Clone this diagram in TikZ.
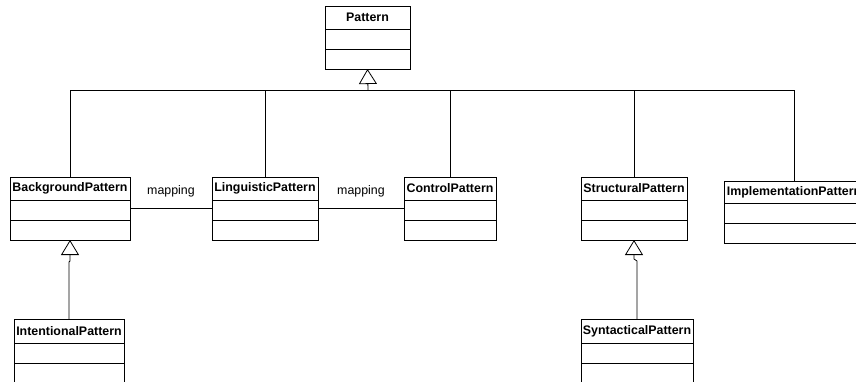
\documentclass[tikz,border=0pt]{standalone}
\usepackage{fontspec}
\setmainfont{Liberation Sans}
\usetikzlibrary{arrows.meta,calc}
\tikzset{
  umlbox/.style={draw, line width=0.8pt, inner sep=0pt, outer sep=0pt, anchor=north west},
  umltitle/.style={font=\fontsize{12.4}{14}\selectfont\bfseries, inner sep=0pt},
  link/.style={line width=0.8pt},
  gen/.style={link, -{Triangle[open, length=15pt, width=18pt]}},
  assoclabel/.style={font=\fontsize{12.4}{14}\selectfont, inner sep=0pt}
}
% #1 name, #2 left, #3 top, #4 right, #5 bottom, #6/#7 compartment dividers, #8 class name
\newcommand\umlclass[8]{%
  \node[umlbox, minimum width={#4-#2}, minimum height={#5-#3}] (#1) at (#2,#3) {};
  \draw[link] (#2,#6) -- (#4,#6);
  \draw[link] (#2,#7) -- (#4,#7);
  \node[umltitle] (#1-title) at ({(#2+#4)/2},{(#3+#6)/2}) {#8};
}
\begin{document}
\begin{tikzpicture}[x=1pt, y=-1pt]
  \clip (0,0) rectangle (856,381);
  \fill[white] (0,0) rectangle (856,381);

  % classes
  \umlclass{pattern}{325}{6}{410}{69}{29}{49}{Pattern}
  \umlclass{back}{10}{177}{130}{240}{200}{220}{BackgroundPattern}
  \umlclass{ling}{212}{177}{318}{240}{200}{220}{LinguisticPattern}
  \umlclass{control}{404}{177}{496}{240}{200}{220}{ControlPattern}
  \umlclass{struct}{581}{177}{687}{240}{200}{220}{StructuralPattern}
  \umlclass{impl}{724}{181}{864}{243}{203}{223}{ImplementationPattern}
  \umlclass{intent}{14}{319}{124}{400}{343}{363}{IntentionalPattern}
  \umlclass{synt}{581}{319}{693}{400}{343}{363}{SyntacticalPattern}

  % generalisation tree towards Pattern
  \coordinate (bus) at (368,90);
  \draw[link] (back.north) |- (bus);
  \draw[link] (ling.north) |- (bus);
  \draw[link] (control.north) |- (bus);
  \draw[link] (struct.north) |- (bus);
  \draw[link] (impl.north) |- (bus);
  \draw[gen] (bus) -- (pattern.south);

  % subclasses
  \draw[gen] (intent.north) -- ($(intent.north)+(0,-57)$) -- ($(back.south)+(0,21)$) -- (back.south);
  \draw[gen] (synt.north) -- ($(synt.north)+(0,-58)$) -- ($(struct.south)+(0,19)$) -- (struct.south);

  % associations
  \draw[link] (back) -- node[assoclabel, pos=0.5, yshift=17pt] (map1) {mapping} (ling);
  \draw[link] (ling) -- node[assoclabel, pos=0.5, yshift=17pt] (map2) {mapping} (control);
\end{tikzpicture}
\end{document}
